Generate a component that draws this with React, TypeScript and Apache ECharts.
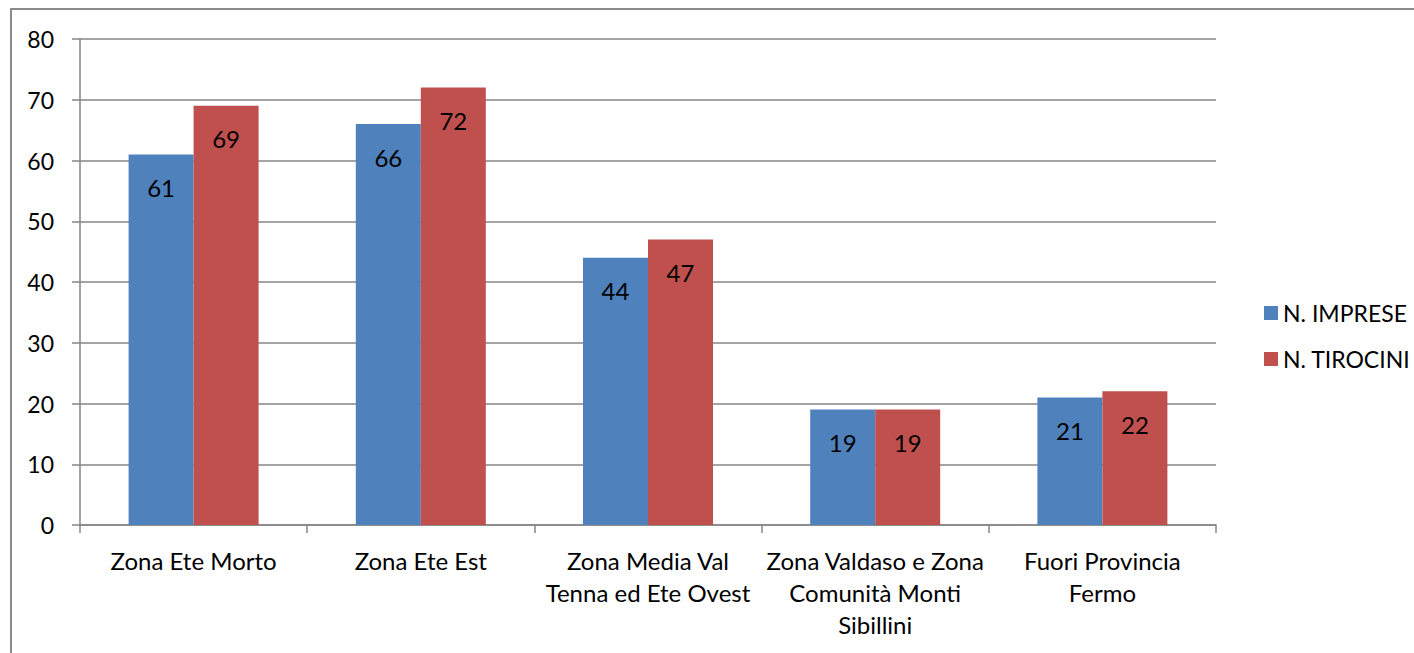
import React, { useEffect, useRef } from "react";
import * as echarts from "echarts";

const categories = [
  "Zona Ete Morto",
  "Zona Ete Est",
  "Zona Media Val\nTenna ed Ete Ovest",
  "Zona Valdaso e Zona\nComunità Monti\nSibillini",
  "Fuori Provincia\nFermo",
];
const imprese = [61, 66, 44, 19, 21];
const tirocini = [69, 72, 47, 19, 22];
const seriesNames = ["N. IMPRESE", "N. TIROCINI"];

const FONT = "Lato";
const GRAY = "#868686";

export default function App() {
  const ref = useRef<HTMLDivElement>(null);
  useEffect(() => {
    if (!ref.current) return;
    const chart = echarts.init(ref.current, undefined, { renderer: "svg" });
    const label = {
      show: true,
      position: "insideTop",
      distance: 21,
      fontSize: 24,
      fontFamily: FONT,
      color: "#000",
    };
    chart.setOption({
      animation: false,
      textStyle: { fontFamily: FONT },
      graphic: [
        {
          type: "rect",
          shape: { x: 11, y: 9, width: 1500, height: 800 },
          style: { fill: "none", stroke: "#8a8a8a", lineWidth: 2 },
          silent: true,
        },
      ],
      grid: { left: 80, right: 198, top: 39, bottom: 128, containLabel: false },
      legend: {
        orient: "vertical",
        left: 1259,
        top: 296,
        itemWidth: 14,
        itemHeight: 14,
        itemGap: 22,
        icon: "rect",
        textStyle: {
          fontSize: 23,
          lineHeight: 24,
          fontFamily: FONT,
          color: "#000",
          padding: [0, 0, 0, 0],
        },
        data: seriesNames,
      },
      xAxis: {
        type: "category",
        data: categories,
        axisLine: { lineStyle: { color: GRAY, width: 1.5 } },
        axisTick: { show: true, length: 8, lineStyle: { color: GRAY, width: 1.5 } },
        axisLabel: {
          fontSize: 24,
          lineHeight: 32,
          fontFamily: FONT,
          color: "#000",
          margin: 19,
          interval: 0,
        },
      },
      yAxis: {
        type: "value",
        min: 0,
        max: 80,
        interval: 10,
        axisLine: { show: true, lineStyle: { color: GRAY, width: 1.5 } },
        axisTick: { show: true, length: 8, lineStyle: { color: GRAY, width: 1.5 } },
        splitLine: { lineStyle: { color: GRAY, width: 1.5 } },
        axisLabel: {
          fontSize: 23,
          fontFamily: FONT,
          color: "#000",
          margin: 26,
        },
      },
      series: [
        {
          name: seriesNames[0],
          type: "bar",
          data: imprese,
          barWidth: 65,
          barGap: "0%",
          itemStyle: { color: "#4F81BD" },
          label,
        },
        {
          name: seriesNames[1],
          type: "bar",
          data: tirocini,
          barWidth: 65,
          barGap: "0%",
          itemStyle: { color: "#C0504D" },
          label,
        },
      ],
    });
    return () => chart.dispose();
  }, []);
  return (
    <div
      ref={ref}
      style={{ position: "absolute", left: 0, top: 0, width: 1414, height: 653, background: "#fff" }}
    />
  );
}
